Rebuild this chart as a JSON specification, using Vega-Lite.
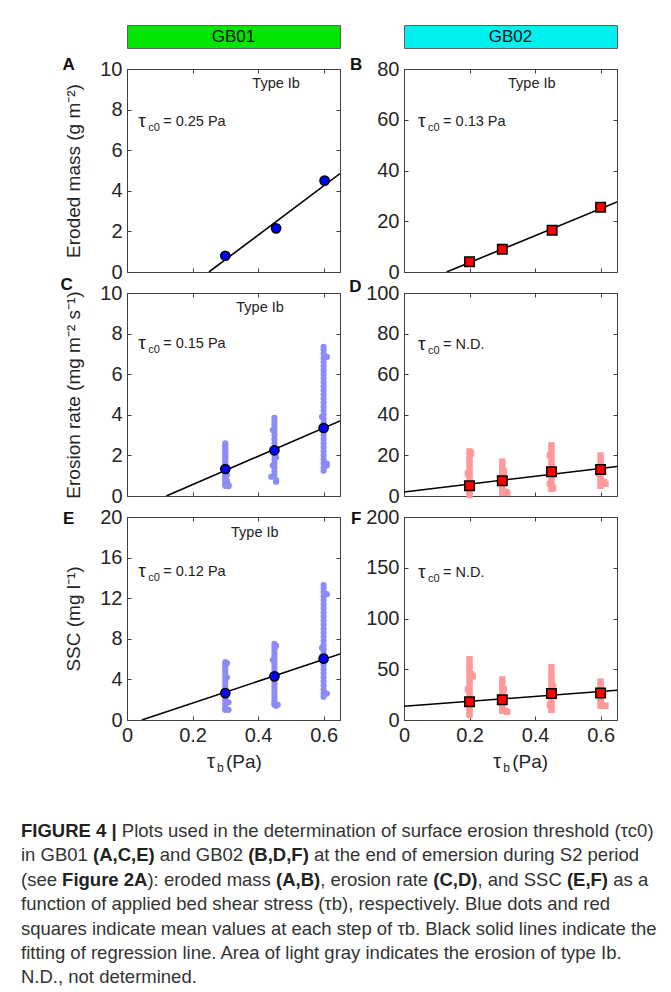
{
"$schema": "https://vega.github.io/schema/vega-lite/v6.json",
"background": "white",
"padding": {"left": 21, "top": 24, "right": 5, "bottom": 0},
"config": {
  "font": "Liberation Sans",
  "view": {"stroke": "#404040", "strokeWidth": 1},
  "axis": {"labelFont": "Liberation Sans", "labelFontSize": 20, "labelColor": "#262626", "titleFont": "Liberation Sans", "titleFontSize": 19, "titleFontWeight": "normal", "titleColor": "#262626", "domain": false, "ticks": true, "tickSize": 4, "tickColor": "#404040", "offset": -4, "labelPadding": 5, "gridColor": "#e3e3e3", "labelFlush": false, "labelOverlap": false, "titlePadding": 16}
},
"datasets": {
  "means": [
    {"p":"A","x":0.3,"y":0.8},{"p":"A","x":0.455,"y":2.15},{"p":"A","x":0.603,"y":4.5},
    {"p":"B","x":0.2,"y":4},{"p":"B","x":0.3,"y":9},{"p":"B","x":0.452,"y":16.5},{"p":"B","x":0.6,"y":25.5},
    {"p":"C","x":0.3,"y":1.33},{"p":"C","x":0.45,"y":2.25},{"p":"C","x":0.6,"y":3.35},
    {"p":"D","x":0.2,"y":5},{"p":"D","x":0.3,"y":7.5},{"p":"D","x":0.45,"y":12},{"p":"D","x":0.6,"y":13},
    {"p":"E","x":0.3,"y":2.65},{"p":"E","x":0.45,"y":4.3},{"p":"E","x":0.6,"y":6.05},
    {"p":"F","x":0.2,"y":18},{"p":"F","x":0.3,"y":20},{"p":"F","x":0.45,"y":26},{"p":"F","x":0.6,"y":26.5}
  ],
  "fits": [
    {"p":"A","x":0.25,"y":0},{"p":"A","x":0.65,"y":4.85},
    {"p":"B","x":0.13,"y":0},{"p":"B","x":0.65,"y":27.6},
    {"p":"C","x":0.12,"y":0},{"p":"C","x":0.65,"y":3.7},
    {"p":"D","x":0,"y":2},{"p":"D","x":0.65,"y":14.5},
    {"p":"E","x":0.045,"y":0},{"p":"E","x":0.65,"y":6.5},
    {"p":"F","x":0,"y":13.5},{"p":"F","x":0.65,"y":29.3}
  ],
  "shade": [
    {"p":"A","x":0.25,"x2":0.65},{"p":"B","x":0.13,"x2":0.65},{"p":"C","x":0.15,"x2":0.65},{"p":"E","x":0.12,"x2":0.65}
  ],
  "notes": [
    {"p":"A","k":"type","x":0.455,"y":9.26,"t":"Type Ib"},
    {"p":"B","k":"type","x":0.39,"y":74,"t":"Type Ib"},
    {"p":"C","k":"type","x":0.406,"y":9.26,"t":"Type Ib"},
    {"p":"E","k":"type","x":0.39,"y":18.4,"t":"Type Ib"},
    {"p":"A","k":"tau","x":0.034,"y":7.45,"t":"= 0.25 Pa"},
    {"p":"B","k":"tau","x":0.043,"y":59.5,"t":"= 0.13 Pa"},
    {"p":"C","k":"tau","x":0.034,"y":7.54,"t":"= 0.15 Pa"},
    {"p":"D","k":"tau","x":0.043,"y":74.9,"t":"= N.D."},
    {"p":"E","k":"tau","x":0.034,"y":14.7,"t":"= 0.12 Pa"},
    {"p":"F","k":"tau","x":0.043,"y":145.8,"t":"= N.D."},
    {"p":"A","k":"letter","x":-0.178,"y":10.2,"t":"A"},
    {"p":"B","k":"letter","x":-0.146,"y":81.6,"t":"B"},
    {"p":"C","k":"letter","x":-0.184,"y":10.4,"t":"C"},
    {"p":"D","k":"letter","x":-0.148,"y":103,"t":"D"},
    {"p":"E","k":"letter","x":-0.178,"y":19.8,"t":"E"},
    {"p":"F","k":"letter","x":-0.146,"y":198,"t":"F"},
    {"p":"E","k":"xt","x":0.244,"y":-4.1,"t":"(Pa)"},
    {"p":"F","k":"xt","x":0.272,"y":-41,"t":"(Pa)"}
  ],
  "scatter": [
    {"p":"C","x":0.3,"y":2.6},{"p":"C","x":0.3,"y":2.5},{"p":"C","x":0.3,"y":2.4},{"p":"C","x":0.3,"y":2.3},{"p":"C","x":0.3,"y":2.2},{"p":"C","x":0.3,"y":2.1},{"p":"C","x":0.3,"y":2.0},{"p":"C","x":0.3,"y":1.9},{"p":"C","x":0.3,"y":1.8},{"p":"C","x":0.3,"y":1.7},{"p":"C","x":0.3,"y":1.6},{"p":"C","x":0.3,"y":1.5},{"p":"C","x":0.3,"y":1.4},{"p":"C","x":0.3,"y":1.2},{"p":"C","x":0.3,"y":1.1},{"p":"C","x":0.3,"y":1.0},{"p":"C","x":0.3,"y":0.9},{"p":"C","x":0.3,"y":0.8},{"p":"C","x":0.3,"y":0.7},{"p":"C","x":0.3,"y":0.6},{"p":"C","x":0.3,"y":0.5},{"p":"C","x":0.31,"y":0.48},{"p":"C","x":0.31,"y":0.55},{"p":"C","x":0.305,"y":0.75},{"p":"C","x":0.305,"y":1.05},
    {"p":"C","x":0.45,"y":3.85},{"p":"C","x":0.45,"y":3.7},{"p":"C","x":0.45,"y":3.55},{"p":"C","x":0.45,"y":3.4},{"p":"C","x":0.45,"y":3.2},{"p":"C","x":0.45,"y":3.0},{"p":"C","x":0.45,"y":2.8},{"p":"C","x":0.45,"y":2.6},{"p":"C","x":0.45,"y":2.4},{"p":"C","x":0.45,"y":2.0},{"p":"C","x":0.45,"y":1.8},{"p":"C","x":0.45,"y":1.6},{"p":"C","x":0.45,"y":1.4},{"p":"C","x":0.45,"y":1.2},{"p":"C","x":0.45,"y":1.05},{"p":"C","x":0.445,"y":3.25},{"p":"C","x":0.44,"y":0.95},{"p":"C","x":0.455,"y":0.78},{"p":"C","x":0.455,"y":0.7},{"p":"C","x":0.445,"y":1.5},{"p":"C","x":0.455,"y":1.9},
    {"p":"C","x":0.6,"y":7.35},{"p":"C","x":0.6,"y":7.2},{"p":"C","x":0.6,"y":7.0},{"p":"C","x":0.6,"y":6.8},{"p":"C","x":0.6,"y":6.6},{"p":"C","x":0.6,"y":6.4},{"p":"C","x":0.6,"y":6.2},{"p":"C","x":0.6,"y":6.0},{"p":"C","x":0.6,"y":5.8},{"p":"C","x":0.6,"y":5.6},{"p":"C","x":0.6,"y":5.4},{"p":"C","x":0.6,"y":5.2},{"p":"C","x":0.6,"y":5.0},{"p":"C","x":0.6,"y":4.8},{"p":"C","x":0.6,"y":4.6},{"p":"C","x":0.6,"y":4.4},{"p":"C","x":0.6,"y":4.2},{"p":"C","x":0.6,"y":4.0},{"p":"C","x":0.6,"y":3.8},{"p":"C","x":0.6,"y":3.6},{"p":"C","x":0.6,"y":3.2},{"p":"C","x":0.6,"y":3.0},{"p":"C","x":0.6,"y":2.8},{"p":"C","x":0.6,"y":2.6},{"p":"C","x":0.6,"y":2.4},{"p":"C","x":0.6,"y":2.2},{"p":"C","x":0.6,"y":2.0},{"p":"C","x":0.6,"y":1.8},{"p":"C","x":0.6,"y":1.6},{"p":"C","x":0.6,"y":1.4},{"p":"C","x":0.6,"y":1.25},{"p":"C","x":0.61,"y":6.85},{"p":"C","x":0.61,"y":1.5},{"p":"C","x":0.61,"y":1.6},{"p":"C","x":0.595,"y":3.9},
    {"p":"E","x":0.3,"y":5.7},{"p":"E","x":0.3,"y":5.45},{"p":"E","x":0.3,"y":5.2},{"p":"E","x":0.3,"y":4.9},{"p":"E","x":0.3,"y":4.6},{"p":"E","x":0.3,"y":4.3},{"p":"E","x":0.3,"y":4.0},{"p":"E","x":0.3,"y":3.7},{"p":"E","x":0.3,"y":3.4},{"p":"E","x":0.3,"y":3.1},{"p":"E","x":0.3,"y":2.8},{"p":"E","x":0.3,"y":2.5},{"p":"E","x":0.3,"y":2.2},{"p":"E","x":0.3,"y":1.9},{"p":"E","x":0.3,"y":1.6},{"p":"E","x":0.3,"y":1.3},{"p":"E","x":0.3,"y":1.1},{"p":"E","x":0.3,"y":1.0},{"p":"E","x":0.31,"y":1.0},{"p":"E","x":0.31,"y":1.75},{"p":"E","x":0.305,"y":5.6},{"p":"E","x":0.305,"y":4.2},
    {"p":"E","x":0.45,"y":7.5},{"p":"E","x":0.45,"y":7.2},{"p":"E","x":0.45,"y":6.9},{"p":"E","x":0.45,"y":6.6},{"p":"E","x":0.45,"y":6.3},{"p":"E","x":0.45,"y":6.0},{"p":"E","x":0.45,"y":5.7},{"p":"E","x":0.45,"y":5.4},{"p":"E","x":0.45,"y":5.1},{"p":"E","x":0.45,"y":4.8},{"p":"E","x":0.45,"y":4.5},{"p":"E","x":0.45,"y":3.9},{"p":"E","x":0.45,"y":3.6},{"p":"E","x":0.45,"y":3.3},{"p":"E","x":0.45,"y":3.0},{"p":"E","x":0.45,"y":2.7},{"p":"E","x":0.45,"y":2.4},{"p":"E","x":0.45,"y":2.1},{"p":"E","x":0.45,"y":1.8},{"p":"E","x":0.45,"y":1.6},{"p":"E","x":0.45,"y":1.5},{"p":"E","x":0.455,"y":1.4},{"p":"E","x":0.46,"y":1.5},{"p":"E","x":0.445,"y":5.9},{"p":"E","x":0.455,"y":7.3},
    {"p":"E","x":0.6,"y":13.3},{"p":"E","x":0.6,"y":13.0},{"p":"E","x":0.6,"y":12.6},{"p":"E","x":0.6,"y":12.2},{"p":"E","x":0.6,"y":11.8},{"p":"E","x":0.6,"y":11.4},{"p":"E","x":0.6,"y":11.0},{"p":"E","x":0.6,"y":10.6},{"p":"E","x":0.6,"y":10.2},{"p":"E","x":0.6,"y":9.8},{"p":"E","x":0.6,"y":9.4},{"p":"E","x":0.6,"y":9.0},{"p":"E","x":0.6,"y":8.6},{"p":"E","x":0.6,"y":8.2},{"p":"E","x":0.6,"y":7.8},{"p":"E","x":0.6,"y":7.4},{"p":"E","x":0.6,"y":7.0},{"p":"E","x":0.6,"y":6.6},{"p":"E","x":0.6,"y":6.2},{"p":"E","x":0.6,"y":5.4},{"p":"E","x":0.6,"y":5.0},{"p":"E","x":0.6,"y":4.6},{"p":"E","x":0.6,"y":4.2},{"p":"E","x":0.6,"y":3.8},{"p":"E","x":0.6,"y":3.4},{"p":"E","x":0.6,"y":3.0},{"p":"E","x":0.6,"y":2.6},{"p":"E","x":0.6,"y":2.3},{"p":"E","x":0.61,"y":12.4},{"p":"E","x":0.61,"y":2.6},{"p":"E","x":0.595,"y":7.1},
    {"p":"D","x":0.2,"y":22},{"p":"D","x":0.2,"y":20},{"p":"D","x":0.2,"y":18},{"p":"D","x":0.2,"y":16},{"p":"D","x":0.2,"y":14},{"p":"D","x":0.2,"y":12},{"p":"D","x":0.2,"y":10},{"p":"D","x":0.2,"y":8},{"p":"D","x":0.2,"y":6},{"p":"D","x":0.2,"y":4},{"p":"D","x":0.2,"y":2},{"p":"D","x":0.2,"y":0.5},{"p":"D","x":0.205,"y":21},{"p":"D","x":0.195,"y":11},
    {"p":"D","x":0.3,"y":17},{"p":"D","x":0.3,"y":15},{"p":"D","x":0.3,"y":13},{"p":"D","x":0.3,"y":11},{"p":"D","x":0.3,"y":9},{"p":"D","x":0.3,"y":7},{"p":"D","x":0.3,"y":5},{"p":"D","x":0.3,"y":3},{"p":"D","x":0.3,"y":1.5},{"p":"D","x":0.31,"y":2},{"p":"D","x":0.315,"y":1.5},{"p":"D","x":0.305,"y":12},
    {"p":"D","x":0.45,"y":25},{"p":"D","x":0.45,"y":23},{"p":"D","x":0.45,"y":21},{"p":"D","x":0.45,"y":19},{"p":"D","x":0.45,"y":17},{"p":"D","x":0.45,"y":15},{"p":"D","x":0.45,"y":13},{"p":"D","x":0.45,"y":11},{"p":"D","x":0.45,"y":9},{"p":"D","x":0.45,"y":7},{"p":"D","x":0.45,"y":5},{"p":"D","x":0.45,"y":3.5},{"p":"D","x":0.445,"y":20},{"p":"D","x":0.455,"y":4},{"p":"D","x":0.445,"y":6},
    {"p":"D","x":0.6,"y":20},{"p":"D","x":0.6,"y":18},{"p":"D","x":0.6,"y":16},{"p":"D","x":0.6,"y":14},{"p":"D","x":0.6,"y":12},{"p":"D","x":0.6,"y":10},{"p":"D","x":0.6,"y":8},{"p":"D","x":0.6,"y":6},{"p":"D","x":0.6,"y":5},{"p":"D","x":0.61,"y":7},{"p":"D","x":0.615,"y":6},{"p":"D","x":0.595,"y":11},
    {"p":"F","x":0.2,"y":60},{"p":"F","x":0.2,"y":56},{"p":"F","x":0.2,"y":52},{"p":"F","x":0.2,"y":48},{"p":"F","x":0.2,"y":44},{"p":"F","x":0.2,"y":40},{"p":"F","x":0.2,"y":36},{"p":"F","x":0.2,"y":32},{"p":"F","x":0.2,"y":28},{"p":"F","x":0.2,"y":24},{"p":"F","x":0.2,"y":20},{"p":"F","x":0.2,"y":16},{"p":"F","x":0.2,"y":12},{"p":"F","x":0.2,"y":8},{"p":"F","x":0.2,"y":5},{"p":"F","x":0.205,"y":45},{"p":"F","x":0.21,"y":43},{"p":"F","x":0.195,"y":30},
    {"p":"F","x":0.3,"y":40},{"p":"F","x":0.3,"y":36},{"p":"F","x":0.3,"y":32},{"p":"F","x":0.3,"y":28},{"p":"F","x":0.3,"y":24},{"p":"F","x":0.3,"y":20},{"p":"F","x":0.3,"y":16},{"p":"F","x":0.3,"y":12},{"p":"F","x":0.3,"y":9},{"p":"F","x":0.31,"y":9},{"p":"F","x":0.315,"y":8},{"p":"F","x":0.305,"y":30},
    {"p":"F","x":0.45,"y":52},{"p":"F","x":0.45,"y":48},{"p":"F","x":0.45,"y":44},{"p":"F","x":0.45,"y":40},{"p":"F","x":0.45,"y":36},{"p":"F","x":0.45,"y":32},{"p":"F","x":0.45,"y":28},{"p":"F","x":0.45,"y":24},{"p":"F","x":0.45,"y":20},{"p":"F","x":0.45,"y":16},{"p":"F","x":0.45,"y":12},{"p":"F","x":0.45,"y":10},{"p":"F","x":0.455,"y":33},{"p":"F","x":0.445,"y":15},
    {"p":"F","x":0.6,"y":38},{"p":"F","x":0.6,"y":35},{"p":"F","x":0.6,"y":32},{"p":"F","x":0.6,"y":29},{"p":"F","x":0.6,"y":26},{"p":"F","x":0.6,"y":23},{"p":"F","x":0.6,"y":20},{"p":"F","x":0.6,"y":17},{"p":"F","x":0.6,"y":14},{"p":"F","x":0.61,"y":14},{"p":"F","x":0.615,"y":14},{"p":"F","x":0.605,"y":25}
  ],
  "caption": [
    {"s":"1a","line":1,"t":"FIGURE 4 |"},
    {"s":"1b","line":1,"t":"Plots used in the determination of surface erosion threshold (τc0)"},
    {"s":"2a","line":2,"t":"in GB01"},
    {"s":"2b","line":2,"t":"(A,C,E)"},
    {"s":"2c","line":2,"t":"and GB02"},
    {"s":"2d","line":2,"t":"(B,D,F)"},
    {"s":"2e","line":2,"t":"at the end of emersion during S2 period"},
    {"s":"3a","line":3,"t":"(see"},
    {"s":"3b","line":3,"t":"Figure 2A"},
    {"s":"3c","line":3,"t":"): eroded mass"},
    {"s":"3d","line":3,"t":"(A,B)"},
    {"s":"3e","line":3,"t":", erosion rate"},
    {"s":"3f","line":3,"t":"(C,D)"},
    {"s":"3g","line":3,"t":", and SSC"},
    {"s":"3h","line":3,"t":"(E,F)"},
    {"s":"3i","line":3,"t":"as a"},
    {"s":"n","line":4,"t":"function of applied bed shear stress (τb), respectively. Blue dots and red"},
    {"s":"n","line":5,"t":"squares indicate mean values at each step of τb. Black solid lines indicate the"},
    {"s":"n","line":6,"t":"fitting of regression line. Area of light gray indicates the erosion of type Ib."},
    {"s":"n","line":7,"t":"N.D., not determined."}
  ]
},
"bounds": "flush",
"columns": 2,
"spacing": {"row": 21, "column": 64},
"concat": [
  {"width": 213, "height": 23, "view": {"fill": "#00e600", "stroke": "#606060"},
   "data": {"values": [{"t": "GB01"}]},
   "mark": {"type": "text", "fontSize": 17, "color": "#111"},
   "encoding": {"text": {"field": "t"}}},
  {"width": 213, "height": 23, "view": {"fill": "#00f0f0", "stroke": "#606060"},
   "data": {"values": [{"t": "GB02"}]},
   "mark": {"type": "text", "fontSize": 17, "color": "#111"},
   "encoding": {"text": {"field": "t"}}},
  {"width": 213, "height": 203,
   "resolve": {"axis": {"x": "independent", "y": "independent"}},
   "encoding": {
     "x": {"field": "x", "type": "quantitative", "scale": {"domain": [0, 0.65], "nice": false, "zero": false}, "axis": null},
     "y": {"field": "y", "type": "quantitative", "scale": {"domain": [0, 10], "nice": false}, "axis": null}
   },
   "layer": [
     {"data": {"name": "shade"}, "transform": [{"filter": "datum.p=='A'"}], "mark": {"type": "rect", "color": "#000000", "opacity": 0.065}, "encoding": {"x2": {"field": "x2"}, "y": {"datum": 0}, "y2": {"datum": 10}}},
     {"data": {"name": "fits"}, "transform": [{"filter": "datum.p=='A'"}], "mark": {"type": "line", "color": "black", "strokeWidth": 1.6, "clip": true},
      "encoding": {"x": {"field": "x", "type": "quantitative", "axis": {"orient": "top", "values": [0, 0.2, 0.4, 0.6], "labels": false, "grid": false, "title": null}}, "y": {"field": "y", "type": "quantitative", "axis": {"orient": "right", "values": [0, 2, 4, 6, 8, 10], "labels": false, "grid": false, "title": null}}}},
     {"data": {"name": "means"}, "transform": [{"filter": "datum.p=='A'"}], "mark": {"type": "point", "shape": "circle", "filled": true, "fill": "#0000ff", "stroke": "#000000", "strokeWidth": 1.5, "size": 85, "opacity": 1},
      "encoding": {"x": {"field": "x", "type": "quantitative", "axis": {"values": [0, 0.2, 0.4, 0.6], "labels": false, "title": null}}, "y": {"field": "y", "type": "quantitative", "axis": {"values": [0, 2, 4, 6, 8, 10], "title": "Eroded mass (g m⁻²)"}}}},
     {"data": {"name": "notes"}, "transform": [{"filter": "datum.p=='A' && datum.k=='type'"}], "mark": {"type": "text", "fontSize": 14.5, "color": "#222"}, "encoding": {"text": {"field": "t"}}},
     {"data": {"name": "notes"}, "transform": [{"filter": "datum.p=='A' && datum.k=='tau'"}], "mark": {"type": "text", "text": "τ", "align": "left", "fontSize": 19, "color": "#222"}},
     {"data": {"name": "notes"}, "transform": [{"filter": "datum.p=='A' && datum.k=='tau'"}], "mark": {"type": "text", "text": "c0", "align": "left", "fontSize": 11, "dx": 10, "dy": 7, "color": "#222"}},
     {"data": {"name": "notes"}, "transform": [{"filter": "datum.p=='A' && datum.k=='tau'"}], "mark": {"type": "text", "align": "left", "fontSize": 14.5, "dx": 25, "dy": 1, "color": "#222"}, "encoding": {"text": {"field": "t"}}},
     {"data": {"name": "notes"}, "transform": [{"filter": "datum.p=='A' && datum.k=='letter'"}], "mark": {"type": "text", "fontSize": 17, "fontWeight": "bold", "color": "#111"}, "encoding": {"text": {"field": "t"}}}
   ]},
  {"width": 213, "height": 203,
   "resolve": {"axis": {"x": "independent", "y": "independent"}},
   "encoding": {
     "x": {"field": "x", "type": "quantitative", "scale": {"domain": [0, 0.65], "nice": false, "zero": false}, "axis": null},
     "y": {"field": "y", "type": "quantitative", "scale": {"domain": [0, 80], "nice": false}, "axis": null}
   },
   "layer": [
     {"data": {"name": "shade"}, "transform": [{"filter": "datum.p=='B'"}], "mark": {"type": "rect", "color": "#000000", "opacity": 0.065}, "encoding": {"x2": {"field": "x2"}, "y": {"datum": 0}, "y2": {"datum": 80}}},
     {"data": {"name": "fits"}, "transform": [{"filter": "datum.p=='B'"}], "mark": {"type": "line", "color": "black", "strokeWidth": 1.6, "clip": true},
      "encoding": {"x": {"field": "x", "type": "quantitative", "axis": {"orient": "top", "values": [0, 0.2, 0.4, 0.6], "labels": false, "grid": false, "title": null}}, "y": {"field": "y", "type": "quantitative", "axis": {"orient": "right", "values": [0, 20, 40, 60, 80], "labels": false, "grid": false, "title": null}}}},
     {"data": {"name": "means"}, "transform": [{"filter": "datum.p=='B'"}], "mark": {"type": "point", "shape": "square", "filled": true, "fill": "#ff0000", "stroke": "#000000", "strokeWidth": 1.5, "size": 90, "opacity": 1},
      "encoding": {"x": {"field": "x", "type": "quantitative", "axis": {"values": [0, 0.2, 0.4, 0.6], "labels": false, "title": null}}, "y": {"field": "y", "type": "quantitative", "axis": {"values": [0, 20, 40, 60, 80], "title": null}}}},
     {"data": {"name": "notes"}, "transform": [{"filter": "datum.p=='B' && datum.k=='type'"}], "mark": {"type": "text", "fontSize": 14.5, "color": "#222"}, "encoding": {"text": {"field": "t"}}},
     {"data": {"name": "notes"}, "transform": [{"filter": "datum.p=='B' && datum.k=='tau'"}], "mark": {"type": "text", "text": "τ", "align": "left", "fontSize": 19, "color": "#222"}},
     {"data": {"name": "notes"}, "transform": [{"filter": "datum.p=='B' && datum.k=='tau'"}], "mark": {"type": "text", "text": "c0", "align": "left", "fontSize": 11, "dx": 10, "dy": 7, "color": "#222"}},
     {"data": {"name": "notes"}, "transform": [{"filter": "datum.p=='B' && datum.k=='tau'"}], "mark": {"type": "text", "align": "left", "fontSize": 14.5, "dx": 25, "dy": 1, "color": "#222"}, "encoding": {"text": {"field": "t"}}},
     {"data": {"name": "notes"}, "transform": [{"filter": "datum.p=='B' && datum.k=='letter'"}], "mark": {"type": "text", "fontSize": 17, "fontWeight": "bold", "color": "#111"}, "encoding": {"text": {"field": "t"}}}
   ]},
  {"width": 213, "height": 203,
   "resolve": {"axis": {"x": "independent", "y": "independent"}},
   "encoding": {
     "x": {"field": "x", "type": "quantitative", "scale": {"domain": [0, 0.65], "nice": false, "zero": false}, "axis": null},
     "y": {"field": "y", "type": "quantitative", "scale": {"domain": [0, 10], "nice": false}, "axis": null}
   },
   "layer": [
     {"data": {"name": "shade"}, "transform": [{"filter": "datum.p=='C'"}], "mark": {"type": "rect", "color": "#000000", "opacity": 0.065}, "encoding": {"x2": {"field": "x2"}, "y": {"datum": 0}, "y2": {"datum": 10}}},
     {"data": {"name": "scatter"}, "transform": [{"filter": "datum.p=='C'"}], "mark": {"type": "point", "shape": "circle", "filled": true, "color": "#8c8cf8", "size": 38, "opacity": 1}},
     {"data": {"name": "fits"}, "transform": [{"filter": "datum.p=='C'"}], "mark": {"type": "line", "color": "black", "strokeWidth": 1.6, "clip": true},
      "encoding": {"x": {"field": "x", "type": "quantitative", "axis": {"orient": "top", "values": [0, 0.2, 0.4, 0.6], "labels": false, "grid": false, "title": null}}, "y": {"field": "y", "type": "quantitative", "axis": {"orient": "right", "values": [0, 2, 4, 6, 8, 10], "labels": false, "grid": false, "title": null}}}},
     {"data": {"name": "means"}, "transform": [{"filter": "datum.p=='C'"}], "mark": {"type": "point", "shape": "circle", "filled": true, "fill": "#0000ff", "stroke": "#000000", "strokeWidth": 1.5, "size": 85, "opacity": 1},
      "encoding": {"x": {"field": "x", "type": "quantitative", "axis": {"values": [0, 0.2, 0.4, 0.6], "labels": false, "title": null}}, "y": {"field": "y", "type": "quantitative", "axis": {"values": [0, 2, 4, 6, 8, 10], "title": "Erosion rate (mg m⁻² s⁻¹)"}}}},
     {"data": {"name": "notes"}, "transform": [{"filter": "datum.p=='C' && datum.k=='type'"}], "mark": {"type": "text", "fontSize": 14.5, "color": "#222"}, "encoding": {"text": {"field": "t"}}},
     {"data": {"name": "notes"}, "transform": [{"filter": "datum.p=='C' && datum.k=='tau'"}], "mark": {"type": "text", "text": "τ", "align": "left", "fontSize": 19, "color": "#222"}},
     {"data": {"name": "notes"}, "transform": [{"filter": "datum.p=='C' && datum.k=='tau'"}], "mark": {"type": "text", "text": "c0", "align": "left", "fontSize": 11, "dx": 10, "dy": 7, "color": "#222"}},
     {"data": {"name": "notes"}, "transform": [{"filter": "datum.p=='C' && datum.k=='tau'"}], "mark": {"type": "text", "align": "left", "fontSize": 14.5, "dx": 25, "dy": 1, "color": "#222"}, "encoding": {"text": {"field": "t"}}},
     {"data": {"name": "notes"}, "transform": [{"filter": "datum.p=='C' && datum.k=='letter'"}], "mark": {"type": "text", "fontSize": 17, "fontWeight": "bold", "color": "#111"}, "encoding": {"text": {"field": "t"}}}
   ]},
  {"width": 213, "height": 203,
   "resolve": {"axis": {"x": "independent", "y": "independent"}},
   "encoding": {
     "x": {"field": "x", "type": "quantitative", "scale": {"domain": [0, 0.65], "nice": false, "zero": false}, "axis": null},
     "y": {"field": "y", "type": "quantitative", "scale": {"domain": [0, 100], "nice": false}, "axis": null}
   },
   "layer": [
     {"data": {"name": "scatter"}, "transform": [{"filter": "datum.p=='D'"}], "mark": {"type": "point", "shape": "square", "filled": true, "color": "#ff9a9a", "size": 40, "opacity": 1}},
     {"data": {"name": "fits"}, "transform": [{"filter": "datum.p=='D'"}], "mark": {"type": "line", "color": "black", "strokeWidth": 1.6, "clip": true},
      "encoding": {"x": {"field": "x", "type": "quantitative", "axis": {"orient": "top", "values": [0, 0.2, 0.4, 0.6], "labels": false, "grid": false, "title": null}}, "y": {"field": "y", "type": "quantitative", "axis": {"orient": "right", "values": [0, 20, 40, 60, 80, 100], "labels": false, "grid": false, "title": null}}}},
     {"data": {"name": "means"}, "transform": [{"filter": "datum.p=='D'"}], "mark": {"type": "point", "shape": "square", "filled": true, "fill": "#ff0000", "stroke": "#000000", "strokeWidth": 1.5, "size": 90, "opacity": 1},
      "encoding": {"x": {"field": "x", "type": "quantitative", "axis": {"values": [0, 0.2, 0.4, 0.6], "labels": false, "title": null}}, "y": {"field": "y", "type": "quantitative", "axis": {"values": [0, 20, 40, 60, 80, 100], "title": null}}}},
     {"data": {"name": "notes"}, "transform": [{"filter": "datum.p=='D' && datum.k=='tau'"}], "mark": {"type": "text", "text": "τ", "align": "left", "fontSize": 19, "color": "#222"}},
     {"data": {"name": "notes"}, "transform": [{"filter": "datum.p=='D' && datum.k=='tau'"}], "mark": {"type": "text", "text": "c0", "align": "left", "fontSize": 11, "dx": 10, "dy": 7, "color": "#222"}},
     {"data": {"name": "notes"}, "transform": [{"filter": "datum.p=='D' && datum.k=='tau'"}], "mark": {"type": "text", "align": "left", "fontSize": 14.5, "dx": 25, "dy": 1, "color": "#222"}, "encoding": {"text": {"field": "t"}}},
     {"data": {"name": "notes"}, "transform": [{"filter": "datum.p=='D' && datum.k=='letter'"}], "mark": {"type": "text", "fontSize": 17, "fontWeight": "bold", "color": "#111"}, "encoding": {"text": {"field": "t"}}}
   ]},
  {"width": 213, "height": 203,
   "resolve": {"axis": {"x": "independent", "y": "independent"}},
   "encoding": {
     "x": {"field": "x", "type": "quantitative", "scale": {"domain": [0, 0.65], "nice": false, "zero": false}, "axis": null},
     "y": {"field": "y", "type": "quantitative", "scale": {"domain": [0, 20], "nice": false}, "axis": null}
   },
   "layer": [
     {"data": {"name": "shade"}, "transform": [{"filter": "datum.p=='E'"}], "mark": {"type": "rect", "color": "#000000", "opacity": 0.065}, "encoding": {"x2": {"field": "x2"}, "y": {"datum": 0}, "y2": {"datum": 20}}},
     {"data": {"name": "scatter"}, "transform": [{"filter": "datum.p=='E'"}], "mark": {"type": "point", "shape": "circle", "filled": true, "color": "#8c8cf8", "size": 38, "opacity": 1}},
     {"data": {"name": "fits"}, "transform": [{"filter": "datum.p=='E'"}], "mark": {"type": "line", "color": "black", "strokeWidth": 1.6, "clip": true},
      "encoding": {"x": {"field": "x", "type": "quantitative", "axis": {"orient": "top", "values": [0, 0.2, 0.4, 0.6], "labels": false, "grid": false, "title": null}}, "y": {"field": "y", "type": "quantitative", "axis": {"orient": "right", "values": [0, 4, 8, 12, 16, 20], "labels": false, "grid": false, "title": null}}}},
     {"data": {"name": "means"}, "transform": [{"filter": "datum.p=='E'"}], "mark": {"type": "point", "shape": "circle", "filled": true, "fill": "#0000ff", "stroke": "#000000", "strokeWidth": 1.5, "size": 85, "opacity": 1},
      "encoding": {"x": {"field": "x", "type": "quantitative", "axis": {"values": [0, 0.2, 0.4, 0.6], "format": "~g", "title": null}}, "y": {"field": "y", "type": "quantitative", "axis": {"values": [0, 4, 8, 12, 16, 20], "title": "SSC (mg l⁻¹)"}}}},
     {"data": {"name": "notes"}, "transform": [{"filter": "datum.p=='E' && datum.k=='type'"}], "mark": {"type": "text", "fontSize": 14.5, "color": "#222"}, "encoding": {"text": {"field": "t"}}},
     {"data": {"name": "notes"}, "transform": [{"filter": "datum.p=='E' && datum.k=='tau'"}], "mark": {"type": "text", "text": "τ", "align": "left", "fontSize": 19, "color": "#222"}},
     {"data": {"name": "notes"}, "transform": [{"filter": "datum.p=='E' && datum.k=='tau'"}], "mark": {"type": "text", "text": "c0", "align": "left", "fontSize": 11, "dx": 10, "dy": 7, "color": "#222"}},
     {"data": {"name": "notes"}, "transform": [{"filter": "datum.p=='E' && datum.k=='tau'"}], "mark": {"type": "text", "align": "left", "fontSize": 14.5, "dx": 25, "dy": 1, "color": "#222"}, "encoding": {"text": {"field": "t"}}},
     {"data": {"name": "notes"}, "transform": [{"filter": "datum.p=='E' && datum.k=='letter'"}], "mark": {"type": "text", "fontSize": 17, "fontWeight": "bold", "color": "#111"}, "encoding": {"text": {"field": "t"}}},
     {"data": {"name": "notes"}, "transform": [{"filter": "datum.p=='E' && datum.k=='xt'"}], "mark": {"type": "text", "text": "τ", "align": "left", "fontSize": 20, "color": "#262626"}},
     {"data": {"name": "notes"}, "transform": [{"filter": "datum.p=='E' && datum.k=='xt'"}], "mark": {"type": "text", "text": "b", "align": "left", "fontSize": 12, "dx": 10, "dy": 6, "color": "#262626"}},
     {"data": {"name": "notes"}, "transform": [{"filter": "datum.p=='E' && datum.k=='xt'"}], "mark": {"type": "text", "align": "left", "fontSize": 19, "dx": 19, "color": "#262626"}, "encoding": {"text": {"field": "t"}}}
   ]},
  {"width": 213, "height": 203,
   "resolve": {"axis": {"x": "independent", "y": "independent"}},
   "encoding": {
     "x": {"field": "x", "type": "quantitative", "scale": {"domain": [0, 0.65], "nice": false, "zero": false}, "axis": null},
     "y": {"field": "y", "type": "quantitative", "scale": {"domain": [0, 200], "nice": false}, "axis": null}
   },
   "layer": [
     {"data": {"name": "scatter"}, "transform": [{"filter": "datum.p=='F'"}], "mark": {"type": "point", "shape": "square", "filled": true, "color": "#ff9a9a", "size": 40, "opacity": 1}},
     {"data": {"name": "fits"}, "transform": [{"filter": "datum.p=='F'"}], "mark": {"type": "line", "color": "black", "strokeWidth": 1.6, "clip": true},
      "encoding": {"x": {"field": "x", "type": "quantitative", "axis": {"orient": "top", "values": [0, 0.2, 0.4, 0.6], "labels": false, "grid": false, "title": null}}, "y": {"field": "y", "type": "quantitative", "axis": {"orient": "right", "values": [0, 50, 100, 150, 200], "labels": false, "grid": false, "title": null}}}},
     {"data": {"name": "means"}, "transform": [{"filter": "datum.p=='F'"}], "mark": {"type": "point", "shape": "square", "filled": true, "fill": "#ff0000", "stroke": "#000000", "strokeWidth": 1.5, "size": 90, "opacity": 1},
      "encoding": {"x": {"field": "x", "type": "quantitative", "axis": {"values": [0, 0.2, 0.4, 0.6], "format": "~g", "title": null}}, "y": {"field": "y", "type": "quantitative", "axis": {"values": [0, 50, 100, 150, 200], "title": null}}}},
     {"data": {"name": "notes"}, "transform": [{"filter": "datum.p=='F' && datum.k=='tau'"}], "mark": {"type": "text", "text": "τ", "align": "left", "fontSize": 19, "color": "#222"}},
     {"data": {"name": "notes"}, "transform": [{"filter": "datum.p=='F' && datum.k=='tau'"}], "mark": {"type": "text", "text": "c0", "align": "left", "fontSize": 11, "dx": 10, "dy": 7, "color": "#222"}},
     {"data": {"name": "notes"}, "transform": [{"filter": "datum.p=='F' && datum.k=='tau'"}], "mark": {"type": "text", "align": "left", "fontSize": 14.5, "dx": 25, "dy": 1, "color": "#222"}, "encoding": {"text": {"field": "t"}}},
     {"data": {"name": "notes"}, "transform": [{"filter": "datum.p=='F' && datum.k=='letter'"}], "mark": {"type": "text", "fontSize": 17, "fontWeight": "bold", "color": "#111"}, "encoding": {"text": {"field": "t"}}},
     {"data": {"name": "notes"}, "transform": [{"filter": "datum.p=='F' && datum.k=='xt'"}], "mark": {"type": "text", "text": "τ", "align": "left", "fontSize": 20, "color": "#262626"}},
     {"data": {"name": "notes"}, "transform": [{"filter": "datum.p=='F' && datum.k=='xt'"}], "mark": {"type": "text", "text": "b", "align": "left", "fontSize": 12, "dx": 10, "dy": 6, "color": "#262626"}},
     {"data": {"name": "notes"}, "transform": [{"filter": "datum.p=='F' && datum.k=='xt'"}], "mark": {"type": "text", "align": "left", "fontSize": 19, "dx": 19, "color": "#262626"}, "encoding": {"text": {"field": "t"}}}
   ]},
  {
    "width": 213, "height": 246,
    "view": {"stroke": null},
    "data": {"name": "caption"},
    "encoding": {
      "x": {"datum": 0, "type": "quantitative", "scale": {"domain": [0, 1]}, "axis": null},
      "y": {"field": "line", "type": "quantitative", "scale": {"domain": [-2.7, 7.4], "reverse": true, "nice": false, "zero": false}, "axis": null},
      "text": {"field": "t"}
    },
    "layer": [
      {"transform": [{"filter": "datum.s=='1a'"}], "mark": {"type": "text", "align": "left", "fontSize": 18.5, "fontWeight": "bold", "dx": -106, "color": "#222"}},
      {"transform": [{"filter": "datum.s=='1b'"}], "mark": {"type": "text", "align": "left", "fontSize": 18.5, "dx": -5.2, "color": "#333"}},
      {"transform": [{"filter": "datum.s=='2a'"}], "mark": {"type": "text", "align": "left", "fontSize": 18.5, "dx": -106, "color": "#333"}},
      {"transform": [{"filter": "datum.s=='2b'"}], "mark": {"type": "text", "align": "left", "fontSize": 18.5, "fontWeight": "bold", "dx": -34.0, "color": "#222"}},
      {"transform": [{"filter": "datum.s=='2c'"}], "mark": {"type": "text", "align": "left", "fontSize": 18.5, "dx": 32.8, "color": "#333"}},
      {"transform": [{"filter": "datum.s=='2d'"}], "mark": {"type": "text", "align": "left", "fontSize": 18.5, "fontWeight": "bold", "dx": 121.2, "color": "#222"}},
      {"transform": [{"filter": "datum.s=='2e'"}], "mark": {"type": "text", "align": "left", "fontSize": 18.5, "dx": 187.0, "color": "#333"}},
      {"transform": [{"filter": "datum.s=='3a'"}], "mark": {"type": "text", "align": "left", "fontSize": 18.5, "dx": -106, "color": "#333"}},
      {"transform": [{"filter": "datum.s=='3b'"}], "mark": {"type": "text", "align": "left", "fontSize": 18.5, "fontWeight": "bold", "dx": -64.9, "color": "#222"}},
      {"transform": [{"filter": "datum.s=='3c'"}], "mark": {"type": "text", "align": "left", "fontSize": 18.5, "dx": 20.45, "color": "#333"}},
      {"transform": [{"filter": "datum.s=='3d'"}], "mark": {"type": "text", "align": "left", "fontSize": 18.5, "fontWeight": "bold", "dx": 149.0, "color": "#222"}},
      {"transform": [{"filter": "datum.s=='3e'"}], "mark": {"type": "text", "align": "left", "fontSize": 18.5, "dx": 193.15, "color": "#333"}},
      {"transform": [{"filter": "datum.s=='3f'"}], "mark": {"type": "text", "align": "left", "fontSize": 18.5, "fontWeight": "bold", "dx": 306.3, "color": "#222"}},
      {"transform": [{"filter": "datum.s=='3g'"}], "mark": {"type": "text", "align": "left", "fontSize": 18.5, "dx": 350.45, "color": "#333"}},
      {"transform": [{"filter": "datum.s=='3h'"}], "mark": {"type": "text", "align": "left", "fontSize": 18.5, "fontWeight": "bold", "dx": 439.9, "color": "#222"}},
      {"transform": [{"filter": "datum.s=='3i'"}], "mark": {"type": "text", "align": "left", "fontSize": 18.5, "dx": 486.2, "color": "#333"}},
      {"transform": [{"filter": "datum.s=='n'"}], "mark": {"type": "text", "align": "left", "fontSize": 18.5, "dx": -106, "color": "#333"}}
    ]
  }
]
}
